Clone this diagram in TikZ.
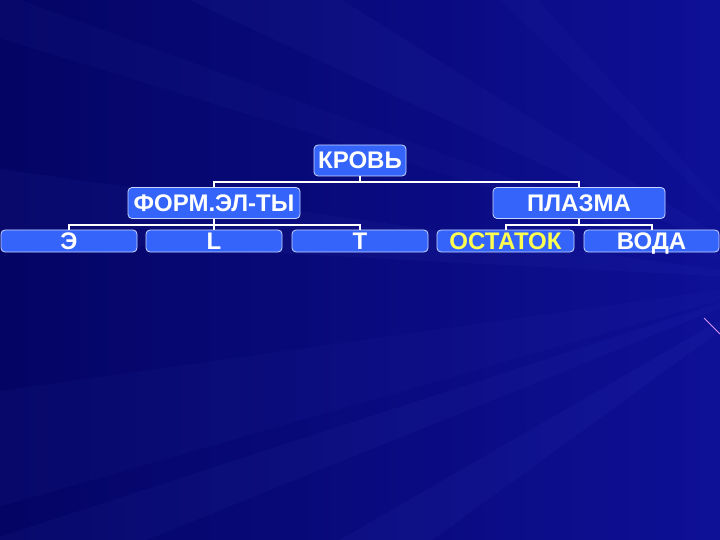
\documentclass[tikz,border=0pt]{standalone}
\usepackage{fontspec}
\setmainfont{Liberation Sans}
\usetikzlibrary{positioning,calc}
\definecolor{hgdunkel}{RGB}{4,4,100}
\definecolor{hgmitte}{RGB}{14,16,150}
\definecolor{strahl}{RGB}{90,110,230}
\definecolor{kastenblau}{RGB}{52,100,250}
\definecolor{rahmen}{RGB}{200,215,255}
\definecolor{gelbtext}{RGB}{255,255,80}
\tikzset{
  kasten/.style={draw=rahmen, fill=kastenblau, rounded corners=4pt, line width=0.8pt,
    text=white, font=\fontsize{24}{26}\selectfont\bfseries, inner sep=0pt,
    text height=17pt, text depth=0pt, minimum height=31pt},
  klein/.style={kasten, minimum height=22pt, minimum width=136pt},
  verb/.style={draw=white, line width=2pt},
}
\begin{document}
\begin{tikzpicture}[x=1pt,y=-1pt]
%Hintergrund mit Strahlen
\useasboundingbox (0,0) rectangle (720,540);
\shade[left color=hgdunkel, right color=hgmitte] (0,0) rectangle (720,540);
\foreach \w/\b/\o in {150/6/0.06,162/4/0.05,172/8/0.04,188/5/0.05,200/3/0.04,212/7/0.05,228/4/0.04}{
  \fill[strahl, opacity=\o] (790,280) -- ++(\w-\b:900) -- ++(\w+\b:900) -- cycle;
}
\draw[rahmen!70!magenta, line width=1pt] (704,318) -- (720,334);
%Kaesten
\node[kasten, minimum width=92pt] (krov) at (360,160.5) {КРОВЬ};
\node[kasten, minimum width=172pt] (form) at (214,203) {ФОРМ.ЭЛ-ТЫ};
\node[kasten, minimum width=172pt] (plasma) at (579,203) {ПЛАЗМА};
\node[klein] (e) at (69,241) {Э};
\node[klein] (l) at (214,241) {L};
\node[klein] (t) at (360,241) {T};
\node[klein, minimum width=137pt, text=gelbtext] (rest) at (505.5,241) {ОСТАТОК};
\node[klein, minimum width=135pt] (wasser) at (651.5,241) {ВОДА};
%Verbindungen
\draw[verb] (krov.south) -- ++(0,6) coordinate (k1);
\draw[verb] (form.north) |- (k1) -| (plasma.north);
\draw[verb] (form.south) -- ++(0,6) coordinate (f1);
\draw[verb] (e.north) |- (f1) -| (t.north);
\draw[verb] (f1) -- (l.north);
\draw[verb] (plasma.south) -- ++(0,6) coordinate (p1);
\draw[verb] (rest.north) |- (p1) -| (wasser.north);
\end{tikzpicture}
\end{document}
